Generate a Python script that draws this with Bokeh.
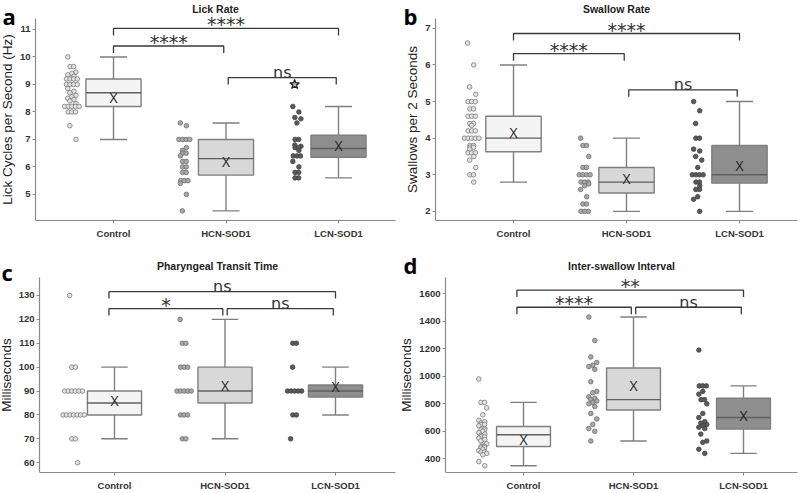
from bokeh.plotting import figure
from bokeh.layouts import gridplot
from bokeh.models import ColumnDataSource, Label, Range1d, FixedTicker, LinearAxis
from bokeh.transform import dodge
from bokeh.core.properties import value
from bokeh.embed import file_html
from bokeh.resources import INLINE

groups = ["Control", "HCN-SOD1", "LCN-SOD1"]
group_x = [1, 2, 3]

# ---------------- Panel a: Lick Rate ----------------
ctrl_a = [10.0, 9.65, 9.65, 9.45, 9.4, 9.35, 9.3, 9.2, 9.2, 9.2, 9.2, 9.0, 9.0, 9.0, 9.0,
          8.85, 8.75, 8.7, 8.6, 8.55, 8.5, 8.45, 8.4, 8.3, 8.2, 8.2, 8.2, 8.2, 8.2,
          8.0, 8.0, 8.0, 7.5, 7.0]
hcn_a = [7.6, 7.5, 7.0, 7.0, 7.0, 7.0, 6.7, 6.6, 6.5, 6.5, 6.4, 6.2, 6.2, 6.0, 6.0,
         5.8, 5.8, 5.5, 5.5, 5.5, 5.4, 5.0, 4.4]
lcn_a = [8.2, 8.0, 7.8, 7.75, 7.6, 7.0, 7.0, 6.8, 6.75, 6.7, 6.7, 6.6, 6.4, 6.4, 6.4,
         6.2, 6.0, 5.8, 5.8, 5.6, 5.6]
lcn_a_outlier = [9.0]
lo_a = [7.0, 4.4, 5.6]
q1_a = [8.2, 5.7, 6.35]
med_a = [8.7, 6.3, 6.67]
q3_a = [9.2, 7.0, 7.15]
hi_a = [10.0, 7.6, 8.2]
mean_a = [8.53, 6.2, 6.79]
ticks_a = [5, 6, 7, 8, 9, 10, 11]

# ---------------- Panel b: Swallow Rate ----------------
ctrl_b = [6.6, 6.0, 5.4, 5.2, 5.0, 5.0, 5.0, 4.8, 4.8, 4.6, 4.6, 4.6, 4.4, 4.4, 4.35,
          4.2, 4.2, 4.2, 4.0, 4.0, 4.0, 4.0, 4.0, 3.8, 3.8, 3.75, 3.75, 3.7, 3.6, 3.6,
          3.6, 3.5, 3.4, 3.2, 3.0, 3.0, 2.8]
hcn_b = [4.0, 3.8, 3.8, 3.5, 3.2, 3.2, 3.0, 3.0, 3.0, 3.0, 2.8, 2.8, 2.8, 2.75, 2.7,
         2.6, 2.4, 2.2, 2.2, 2.0, 2.0, 2.0]
lcn_b = [5.0, 4.75, 4.4, 4.0, 4.0, 3.7, 3.65, 3.5, 3.4, 3.2, 3.0, 3.0, 3.0, 3.0, 2.8,
         2.8, 2.7, 2.6, 2.6, 2.4, 2.33, 2.0]
lo_b = [2.8, 2.0, 2.0]
q1_b = [3.63, 2.5, 2.77]
med_b = [4.0, 2.8, 3.0]
q3_b = [4.6, 3.2, 3.8]
hi_b = [6.0, 4.0, 5.0]
mean_b = [4.15, 2.91, 3.25]
ticks_b = [2, 3, 4, 5, 6, 7]

# ---------------- Panel c: Pharyngeal Transit Time ----------------
ctrl_c = [130, 100, 100, 90, 90, 90, 90, 90, 90, 80, 80, 80, 80, 80, 80, 80, 70, 70, 60]
hcn_c = [120, 110, 110, 100, 100, 100, 90, 90, 90, 90, 90, 80, 80, 80, 70, 70]
lcn_c = [110, 110, 100, 90, 90, 90, 90, 90, 80, 80, 70]
lo_c = [70, 70, 80]
q1_c = [80, 85, 87.5]
med_c = [85, 90, 90]
q3_c = [90, 100, 92.5]
hi_c = [100, 120, 100]
mean_c = [86, 92.4, 91.8]
ticks_c = [60, 70, 80, 90, 100, 110, 120, 130]

# ---------------- Panel d: Inter-swallow Interval ----------------
ctrl_d = [980, 810, 810, 770, 720, 680, 670, 660, 650, 650, 640, 620, 610, 610, 600, 590,
          580, 570, 560, 560, 550, 540, 530, 510, 500, 490, 490, 480, 480, 470, 460, 450,
          450, 440, 430, 380, 350]
hcn_d = [1430, 1260, 1140, 1100, 1080, 1070, 1050, 960, 890, 880, 850, 840, 830, 820, 810,
         800, 780, 730, 690, 650, 620, 600, 530]
lcn_d = [1190, 930, 930, 930, 890, 870, 830, 830, 800, 730, 700, 670, 660, 650, 640, 630,
         620, 580, 530, 520, 470, 440]
lo_d = [350, 530, 440]
q1_d = [490, 755, 617]
med_d = [575, 830, 700]
q3_d = [635, 1060, 840]
hi_d = [810, 1430, 930]
mean_d = [539, 933, 718]
ticks_d = [400, 600, 800, 1000, 1200, 1400, 1600]

# significance brackets: (group from, group to, label)
sig_a = [(1, 3, "****"), (1, 2, "****"), (2, 3, "ns")]
sig_b = [(1, 3, "****"), (1, 2, "****"), (2, 3, "ns")]
sig_c = [(1, 3, "ns"), (1, 2, "*"), (2, 3, "ns")]
sig_d = [(1, 3, "**"), (1, 2, "****"), (2, 3, "ns")]

BOX_FILL = ["#f4f4f4", "#d8d8d8", "#8e8e8e"]
PT_FILL = ["#e2e2e2", "#a8a8a8", "#5a5a5a"]
PT_LINE = ["#7a7a7a", "#6e6e6e", "#444444"]
EDGE = "#7f7f7f"
FONT = "Liberation Sans"
W = 400


def strip_positions(vals, center, step=0.032):
    counts = {}
    for v in vals:
        counts[v] = counts.get(v, 0) + 1
    seen = {}
    xs = []
    for i, v in enumerate(vals):
        k = counts[v]
        j = seen.get(v, 0)
        seen[v] = j + 1
        if k == 1:
            off = ((i * 3) % 5 - 2) * 0.018
        else:
            off = (j - (k - 1) / 2) * step
        xs.append(center + off)
    return xs


def panel(letter, title, ylabel, yticks, pts, stats, sigs, levels, g, left_x=1.0,
          outlier=None):
    lo, q1, med, q3, hi, mean = stats

    # page-pixel layout -> data coordinates
    def xv(px):
        return 1 + (px - g["c0"]) / g["s"]

    def yv(py):
        return g["vmin"] + (g["vtop"] - g["vmin"]) * (g["fbot"] - py) / (g["fbot"] - g["atop"])

    fig_right = g["left"] + W
    H = g["H"]
    B = g["top"] + H - g["fbot"]
    p = figure(width=W, height=H, x_range=Range1d(xv(g["left"]), xv(fig_right)),
               y_range=Range1d(g["vmin"], yv(g["top"])), title=None,
               y_axis_location=None, output_backend="svg", toolbar_location=None,
               min_border_left=0, min_border_right=0, min_border_top=0,
               min_border_bottom=B)
    p.xgrid.visible = False
    p.ygrid.visible = False
    p.outline_line_color = None

    yax = LinearAxis(fixed_location=xv(g["axis"]), ticker=FixedTicker(ticks=yticks),
                     bounds=(g["vmin"], g["vtop"]), axis_label=ylabel)
    p.add_layout(yax, "left")
    p.xaxis.ticker = FixedTicker(ticks=group_x)
    p.xaxis.major_label_overrides = {x: gname for x, gname in zip(group_x, groups)}
    p.xaxis.bounds = (xv(g["axis"]), xv(min(g["right"], fig_right)))
    for ax in [yax, p.xaxis[0]]:
        ax.axis_line_color = "#8a8a8a"
        ax.axis_line_width = 1.2
        ax.major_tick_line_color = "#8a8a8a"
        ax.major_tick_out = 3
        ax.major_tick_in = 0
        ax.minor_tick_line_color = None
        ax.major_label_text_font = FONT
        ax.major_label_text_font_style = "bold"
        ax.major_label_text_font_size = "9.5px"
        ax.major_label_text_color = "#333333"
        ax.major_label_standoff = 2
    p.xaxis.major_label_standoff = 4
    yax.axis_label_text_font = FONT
    yax.axis_label_text_font_style = "normal"
    yax.axis_label_text_font_size = "13.5px"
    yax.axis_label_text_color = "#222222"
    yax.axis_label_standoff = 2

    # title and panel letter (inside the frame)
    p.add_layout(Label(x=xv((g["axis"] + g["right"]) / 2), y=yv(g["ttl"]), text=title,
                       text_font=FONT, text_font_size="10.5px", text_font_style="bold",
                       text_color="#222222", text_align="center",
                       text_baseline="middle"))
    p.add_layout(Label(x=xv(g["lx"]), y=yv(g["ly"]), text=letter, text_font="Open Sans",
                       text_font_size="22px", text_font_style="bold",
                       text_color="#000000", text_align="left",
                       text_baseline="alphabetic"))

    # jittered points
    for gi, vals in enumerate(pts):
        xs = strip_positions(vals, group_x[gi] - 0.37)
        p.scatter(xs, vals, size=4.6, fill_color=PT_FILL[gi], line_color=PT_LINE[gi],
                  line_width=0.8)
    if outlier is not None:
        gi, vals = outlier
        p.scatter([group_x[gi] - 0.39] * len(vals), vals, marker="star", size=10,
                  fill_color="#bbbbbb", line_color="#222222", line_width=1.2)

    src = ColumnDataSource(dict(x=group_x, lo=lo, q1=q1, med=med, q3=q3, hi=hi,
                                mean=mean, fill=BOX_FILL, mk=["X"] * 3))
    p.segment(x0="x", y0="q3", x1="x", y1="hi", source=src, line_color=EDGE, line_width=1.4)
    p.segment(x0="x", y0="lo", x1="x", y1="q1", source=src, line_color=EDGE, line_width=1.4)
    p.segment(x0=dodge("x", -0.12), y0="hi", x1=dodge("x", 0.12), y1="hi", source=src,
              line_color=EDGE, line_width=1.4)
    p.segment(x0=dodge("x", -0.12), y0="lo", x1=dodge("x", 0.12), y1="lo", source=src,
              line_color=EDGE, line_width=1.4)
    p.vbar(x="x", width=0.49, bottom="q1", top="q3", fill_color="fill", line_color=EDGE,
           line_width=1.4, source=src)
    p.segment(x0=dodge("x", -0.245), y0="med", x1=dodge("x", 0.245), y1="med", source=src,
              line_color="#606060", line_width=1.4)
    p.text(x="x", y="mean", text="mk", source=src, text_font=value("Open Sans"),
           text_font_size="14px", text_align="center", text_baseline="middle",
           text_color="#222222")

    # significance brackets
    drop = (g["vtop"] - g["vmin"]) / (g["fbot"] - g["atop"]) * 7
    for (g1, g2, lab), ylev in zip(sigs, levels):
        x1 = left_x if g1 == 1 else g1 + 0.02
        x2 = g2 - 0.02 if (g2 == 2 or g1 == 2) else g2
        p.line([x1, x1, x2, x2], [ylev - drop, ylev, ylev, ylev - drop],
               line_color="#3a3a3a", line_width=1.3)
        if lab == "ns":
            p.text([(x1 + x2) / 2], [ylev], text=[lab], text_font=value("DejaVu Sans"),
                   text_font_size="16px", text_align="center",
                   text_baseline="alphabetic", y_offset=-5, text_color="#333333")
        else:
            p.text([(x1 + x2) / 2], [ylev], text=[lab], text_font=value("DejaVu Sans"),
                   text_font_size="19px", text_align="center",
                   text_baseline="alphabetic", y_offset=-4, text_color="#333333")
    return p


# page-pixel geometry of each panel
geo_a = dict(left=0, top=0, H=246, c0=113, s=112.5, axis=35, right=395,
             vmin=4.05, vtop=11.4, atop=18, fbot=220, ttl=8, lx=2, ly=15)
geo_b = dict(left=400, top=0, H=246, c0=513, s=113, axis=435, right=797,
             vmin=1.75, vtop=7.27, atop=18, fbot=220, ttl=8, lx=403, ly=15)
geo_c = dict(left=0, top=246, H=247, c0=114, s=110.5, axis=39, right=395,
             vmin=55.9, vtop=137.7, atop=277, fbot=475, ttl=266, lx=1, ly=272)
geo_d = dict(left=400, top=246, H=247, c0=523, s=110, axis=445, right=797,
             vmin=301, vtop=1720, atop=277, fbot=475, ttl=266, lx=403, ly=265)

pa = panel("a", "Lick Rate", "Lick Cycles per Second (Hz)", ticks_a,
           [ctrl_a, hcn_a, lcn_a], (lo_a, q1_a, med_a, q3_a, hi_a, mean_a),
           sig_a, [11.04, 10.4, 9.25], geo_a, outlier=(2, lcn_a_outlier))
pb = panel("b", "Swallow Rate", "Swallows per 2 Seconds", ticks_b,
           [ctrl_b, hcn_b, lcn_b], (lo_b, q1_b, med_b, q3_b, hi_b, mean_b),
           sig_b, [6.86, 6.31, 5.32], geo_b)
pc = panel("c", "Pharyngeal Transit Time", "Milliseconds", ticks_c,
           [ctrl_c, hcn_c, lcn_c], (lo_c, q1_c, med_c, q3_c, hi_c, mean_c),
           sig_c, [131.6, 124.5, 124.5], geo_c, left_x=0.95)
pd_ = panel("d", "Inter-swallow Interval", "Milliseconds", ticks_d,
            [ctrl_d, hcn_d, lcn_d], (lo_d, q1_d, med_d, q3_d, hi_d, mean_d),
            sig_d, [1626, 1501, 1501], geo_d, left_x=0.94)

grid = gridplot([[pa, pb], [pc, pd_]], toolbar_location=None)
open("out.html", "w").write(file_html(grid, INLINE))
